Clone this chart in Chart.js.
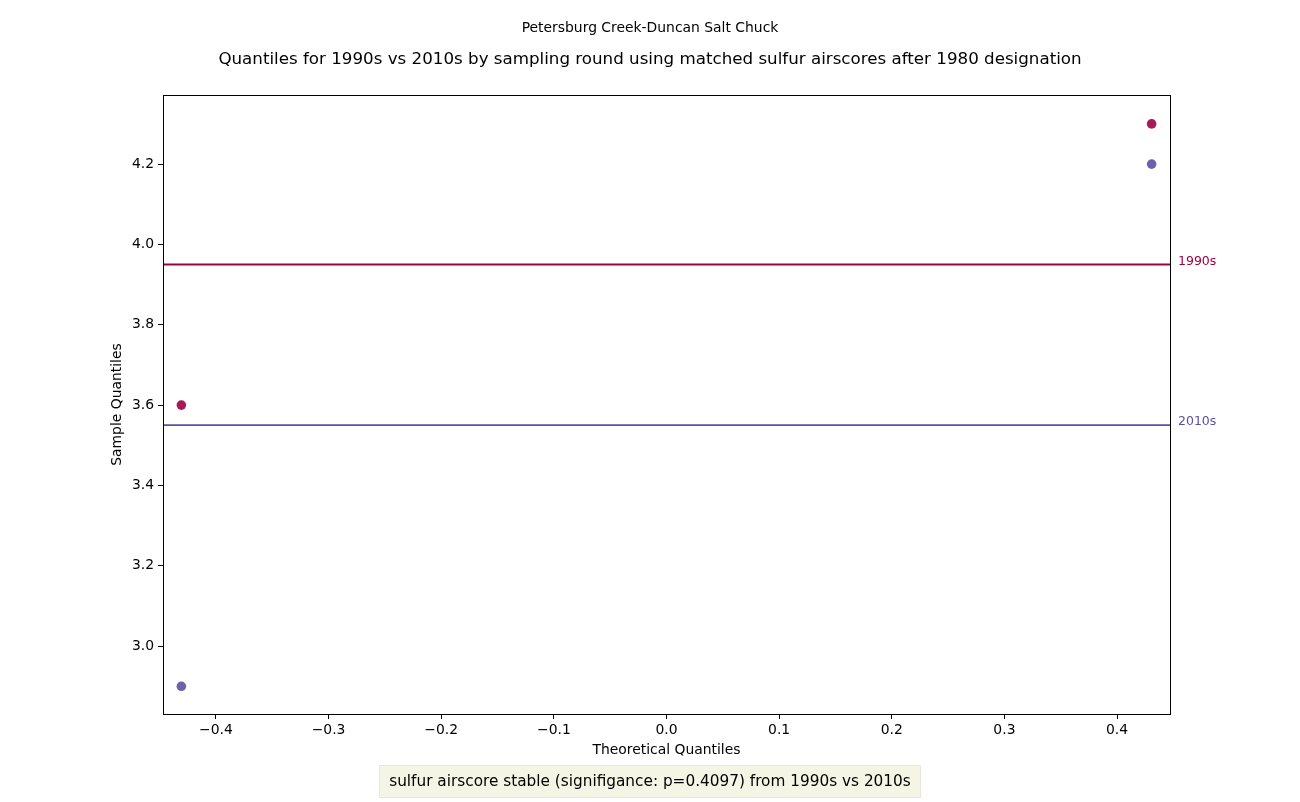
<!DOCTYPE html>
<html>
<head>
<meta charset="utf-8">
<script src="https://cdn.jsdelivr.net/npm/chart.js@4/dist/chart.umd.min.js"></script>
<style>
  html, body { margin: 0; padding: 0; background: #fff; }
  #wrap { width: 1300px; height: 802px; position: relative; }
</style>
</head>
<body>
<div id="wrap"><canvas id="chartCanvas" width="1300" height="802"></canvas></div>
<script>
// data
const theoretical = [-0.4307, 0.4307];
const q1990s = [3.6, 4.3];
const q2010s = [2.9, 4.2];
const mean1990s = 3.95;
const mean2010s = 3.55;
const xTicks = [-0.4, -0.3, -0.2, -0.1, 0.0, 0.1, 0.2, 0.3, 0.4];
const yTicks = [3.0, 3.2, 3.4, 3.6, 3.8, 4.0, 4.2];
const xLimits = [-0.447, 0.447];
const yLimits = [2.831, 4.372];

const suptitle = 'Petersburg Creek-Duncan Salt Chuck';
const title = 'Quantiles for 1990s vs 2010s by sampling round using matched sulfur airscores after 1980 designation';
const note = 'sulfur airscore stable (signifigance: p=0.4097) from 1990s vs 2010s';

const red = '#9e0142';
const blue = '#5e4fa2';
const redPt = 'rgba(158, 1, 66, 0.9)';
const bluePt = 'rgba(94, 79, 162, 0.9)';
const FONT = "'DejaVu Sans', sans-serif";

function pts(xs, ys) {
  return xs.map((x, i) => ({ x: x, y: ys[i] }));
}

const textPlugin = {
  id: 'textPlugin',
  afterDraw(chart) {
    const ctx = chart.ctx;
    const a = chart.chartArea;
    const ys = chart.scales.y;
    ctx.save();
    // frame
    ctx.strokeStyle = '#000';
    ctx.lineWidth = 1;
    ctx.strokeRect(Math.round(a.left) + 0.5, Math.round(a.top) + 0.5, Math.round(a.right - a.left), Math.round(a.bottom - a.top));

    ctx.fillStyle = '#000';
    ctx.textAlign = 'center';
    ctx.textBaseline = 'middle';
    ctx.font = '13.9px ' + FONT;
    ctx.fillText(suptitle, 650, 28);
    ctx.font = '16.7px ' + FONT;
    ctx.fillText(title, 650, 59.5);

    ctx.font = '13.9px ' + FONT;
    ctx.fillText('Theoretical Quantiles', (a.left + a.right) / 2, 750.5);
    ctx.save();
    ctx.translate(117, (a.top + a.bottom) / 2);
    ctx.rotate(-Math.PI / 2);
    ctx.fillText('Sample Quantiles', 0, 0);
    ctx.restore();

    // line labels
    ctx.textAlign = 'left';
    ctx.font = '12.5px ' + FONT;
    ctx.fillStyle = red;
    ctx.fillText('1990s', a.right + 8, ys.getPixelForValue(mean1990s) - 3);
    ctx.fillStyle = blue;
    ctx.fillText('2010s', a.right + 8, ys.getPixelForValue(mean2010s) - 3);

    // note box
    ctx.fillStyle = '#f5f5e6';
    ctx.fillRect(379, 765, 542, 33);
    ctx.strokeStyle = '#e8e8d6';
    ctx.strokeRect(379.5, 765.5, 541, 32);
    ctx.fillStyle = '#000';
    ctx.textAlign = 'center';
    ctx.font = '15.3px ' + FONT;
    ctx.fillText(note, 650, 782);
    ctx.restore();
  }
};

const ctx = document.getElementById('chartCanvas').getContext('2d');
const chart = new Chart(ctx, {
  type: 'scatter',
  data: {
    datasets: [
      {
        label: '1990s mean',
        type: 'line',
        data: pts(xLimits, [mean1990s, mean1990s]),
        borderColor: red,
        borderWidth: 1.8,
        pointRadius: 0,
        fill: false
      },
      {
        label: '2010s mean',
        type: 'line',
        data: pts(xLimits, [mean2010s, mean2010s]),
        borderColor: blue,
        borderWidth: 1.8,
        pointRadius: 0,
        fill: false
      },
      {
        label: '1990s',
        data: pts(theoretical, q1990s),
        backgroundColor: redPt,
        borderColor: redPt,
        borderWidth: 0,
        pointRadius: 4.8
      },
      {
        label: '2010s',
        data: pts(theoretical, q2010s),
        backgroundColor: bluePt,
        borderColor: bluePt,
        borderWidth: 0,
        pointRadius: 4.8
      }
    ]
  },
  options: {
    responsive: false,
    animation: false,
    layout: { padding: { left: 0, right: 130, top: 95, bottom: 0 } },
    plugins: {
      legend: { display: false },
      tooltip: { enabled: false },
      title: { display: false }
    },
    scales: {
      x: {
        type: 'linear',
        min: xLimits[0],
        max: xLimits[1],
        afterBuildTicks: axis => { axis.ticks = xTicks.map(v => ({ value: v })); },
        afterFit: axis => { axis.height = 88; },
        grid: { drawOnChartArea: false, drawTicks: true, tickLength: 5, color: '#000' },
        border: { display: false },
        ticks: {
          color: '#000',
          padding: 3,
          maxRotation: 0,
          font: { family: FONT, size: 13.9 },
          callback: v => v.toFixed(1).replace('-', '\u2212')
        }
      },
      y: {
        type: 'linear',
        min: yLimits[0],
        max: yLimits[1],
        afterBuildTicks: axis => { axis.ticks = yTicks.map(v => ({ value: v })); },
        afterFit: axis => { axis.width = 163; },
        grid: { drawOnChartArea: false, drawTicks: true, tickLength: 5, color: '#000' },
        border: { display: false },
        ticks: {
          color: '#000',
          padding: 4,
          font: { family: FONT, size: 13.9 },
          callback: v => v.toFixed(1)
        }
      }
    }
  },
  plugins: [textPlugin]
});
</script>
</body>
</html>
